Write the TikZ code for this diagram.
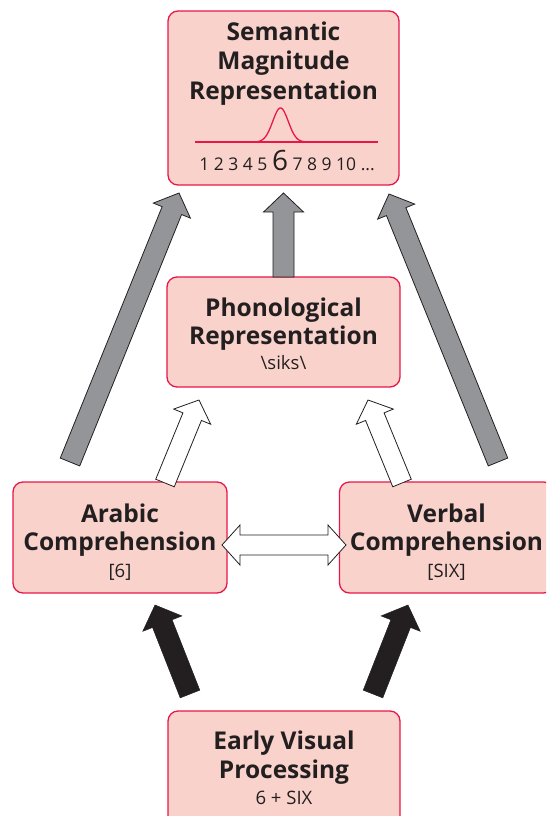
\documentclass[tikz,border=0pt]{standalone}
\usepackage{fontspec}
\setmainfont{Open Sans}
\usetikzlibrary{calc}
\definecolor{boxfill}{HTML}{F9D3CB}
\definecolor{boxdraw}{HTML}{E8174A}
\definecolor{arrgray}{HTML}{939598}
\definecolor{ink}{HTML}{231F20}
% #1 style, #2 tail, #3 tip, #4 half shaft width, #5 half head width, #6 head length
\newcommand\blockarrow[6]{%
  \path ($(#3)!#6!(#2)$) coordinate (ba-h);
  \draw[#1] ($(#2)!#4!90:(#3)$) -- ($(ba-h)!#4!90:(#3)$) -- ($(ba-h)!#5!90:(#3)$) -- (#3)
    -- ($(ba-h)!#5!-90:(#3)$) -- ($(ba-h)!#4!-90:(#3)$) -- ($(#2)!#4!-90:(#3)$) -- cycle;
}
% double-headed: #1 style, #2 tip A, #3 tip B, #4 half shaft, #5 half head, #6 head length
\newcommand\dblarrow[6]{%
  \path ($(#2)!#6!(#3)$) coordinate (da-a) ($(#3)!#6!(#2)$) coordinate (da-b);
  \draw[#1] (#2) -- ($(da-a)!#5!90:(#3)$) -- ($(da-a)!#4!90:(#3)$) -- ($(da-b)!#4!-90:(#2)$)
    -- ($(da-b)!#5!-90:(#2)$) -- (#3) -- ($(da-b)!#5!90:(#2)$) -- ($(da-b)!#4!90:(#2)$)
    -- ($(da-a)!#4!-90:(#3)$) -- ($(da-a)!#5!-90:(#3)$) -- cycle;
}
\tikzset{
  panel/.style={draw=boxdraw, fill=boxfill, line width=1.3pt, rounded corners=10pt, inner sep=0pt},
  title/.style={font=\bfseries\fontsize{24.5}{28}\selectfont, text=ink, align=center, inner sep=0pt},
  sub/.style={font=\fontsize{18.5}{20}\selectfont, text=ink, inner sep=0pt},
  grayarrow/.style={fill=arrgray, draw=ink, line width=0.8pt, line join=miter},
  whitearrow/.style={fill=white, draw=ink, line width=0.8pt, line join=miter},
  blackarrow/.style={fill=ink, draw=ink, line width=0.5pt, line join=miter},
}
\begin{document}
\begin{tikzpicture}[x=1pt,y=-1pt]
\useasboundingbox (0,0) rectangle (546,816);
\clip (0,0) rectangle (546,816);
% boxes
\node[panel, minimum width=231pt, minimum height=174pt] (sem) at (283.5,98) {};
\node[panel, minimum width=233pt, minimum height=110pt] (pho) at (283.5,332) {};
\node[panel, minimum width=214pt, minimum height=111pt] (ara) at (120,537.5) {};
\node[panel, minimum width=214pt, minimum height=111pt] (ver) at (446.5,537.5) {};
\node[panel, minimum width=232pt, minimum height=140pt] (evp) at (284,781) {};
% texts
\node[title, anchor=base] (semt) at (283.5,41) {Semantic};
\node[title, anchor=base] (semm) at (283.5,70) {Magnitude};
\node[title, anchor=base] (semr) at (283.5,99) {Representation};
\node[title, anchor=base] (phot) at (283.5,316) {Phonological};
\node[title, anchor=base] (phor) at (283.5,344) {Representation};
\node[sub, anchor=base] (phos) at (283.5,369) {\textbackslash siks\textbackslash};
\node[title, anchor=base] (arat) at (120,522) {Arabic};
\node[title, anchor=base] (arac) at (120,550) {Comprehension};
\node[sub, anchor=base] (aras) at (120,577) {[6]};
\node[title, anchor=base] (vert) at (446.5,522) {Verbal};
\node[title, anchor=base] (verc) at (446.5,550) {Comprehension};
\node[sub, anchor=base] (vers) at (446.5,577) {[SIX]};
\node[title, anchor=base] (evpt) at (284,749) {Early Visual};
\node[title, anchor=base] (evpp) at (284,778) {Processing};
\node[sub, anchor=base] (evps) at (284,804) {6 + SIX};
% magnitude scale
\coordinate (axl) at (195,142);
\coordinate (axr) at (378,142);
\draw[boxdraw, line width=1.3pt] (axl) -- (axr);
\draw[boxdraw, line width=1.3pt, domain=256:305, samples=80, smooth]
  plot (\x, {142-34*exp(-((\x-280.5)/11)^2)});
\node[sub, font=\fontsize{17.5}{18}\selectfont, anchor=base] (nums) at (287,170)
  {1 2 3 4 5 {\fontsize{28}{28}\selectfont 6} 7 8 9 10 ...};
% named arrow ends
\coordinate (g1s) at (70,462);  \coordinate (g1t) at (179,193);
\coordinate (g2s) at (283.5,277); \coordinate (g2t) at (283.5,193);
\coordinate (g3s) at (498,462); \coordinate (g3t) at (389,194);
\coordinate (w1s) at (165,483); \coordinate (w1t) at (199,400);
\coordinate (w2s) at (402,483); \coordinate (w2t) at (368,400);
\coordinate (b1s) at (190,694); \coordinate (b1t) at (155,605);
\coordinate (b2s) at (373,694); \coordinate (b2t) at (408,605);
\coordinate (dal) at (222,545); \coordinate (dar) at (346,545);
% arrows
\blockarrow{grayarrow}{g1s}{g1t}{10.5pt}{20pt}{19pt}
\blockarrow{grayarrow}{g2s}{g2t}{10.5pt}{20pt}{19pt}
\blockarrow{grayarrow}{g3s}{g3t}{10.5pt}{20pt}{19pt}
\blockarrow{whitearrow}{w1s}{w1t}{10pt}{20pt}{18pt}
\blockarrow{whitearrow}{w2s}{w2t}{10pt}{20pt}{18pt}
\blockarrow{blackarrow}{b1s}{b1t}{10.5pt}{21pt}{20pt}
\blockarrow{blackarrow}{b2s}{b2t}{10.5pt}{21pt}{20pt}
\dblarrow{whitearrow}{dal}{dar}{10pt}{20pt}{18pt}
\end{tikzpicture}
\end{document}
